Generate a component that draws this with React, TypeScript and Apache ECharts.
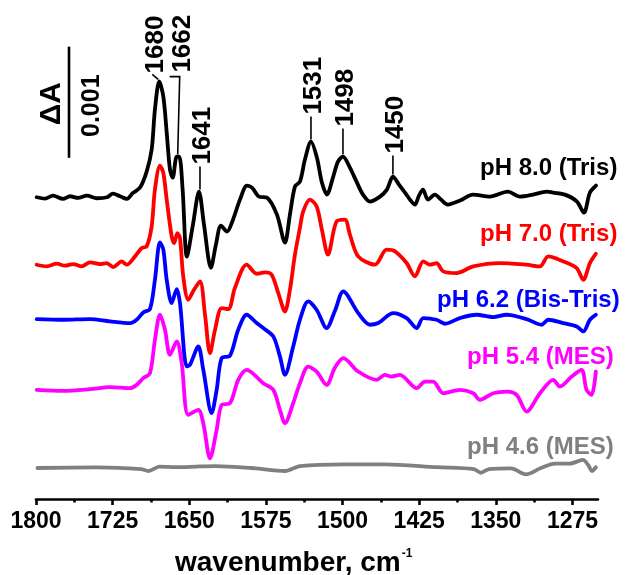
import { useEffect, useRef } from "react";
import * as echarts from "echarts";

// x axis (wavenumber, cm-1)
const tickValues = [1800, 1725, 1650, 1575, 1500, 1425, 1350, 1275];
const minorTickValues = [1762.5, 1687.5, 1612.5, 1537.5, 1462.5, 1387.5, 1312.5];

// Difference spectra: [wavenumber, ΔA in mOD relative to trace baseline]
const pH80: [number, number][] = [
  [1799.3, -0.006], [1791.2, -0.018], [1783.4, 0.009], [1773.6, -0.021], [1766.7, 0.003], [1758.9, -0.012],
  [1750.1, 0.009], [1740.3, -0.015], [1730.5, -0.006], [1724.7, 0.027], [1717.8, 0.003], [1711.0, -0.021],
  [1705.1, 0.033], [1698.2, 0.081], [1691.7, 0.225], [1686.8, 0.423], [1683.6, 0.784], [1679.4, 1.036],
  [1675.4, 0.901], [1672.1, 0.577], [1668.9, 0.243], [1666.2, 0.171], [1662.3, 0.36], [1659.8, 0.36],
  [1656.5, 0.063], [1652.3, -0.541], [1646.4, -0.252], [1640.5, 0.045], [1635.6, -0.252], [1628.8, -0.64],
  [1623.9, -0.432], [1619.0, -0.261], [1613.1, -0.315], [1607.2, -0.207], [1600.4, -0.027], [1593.5, 0.099],
  [1588.6, 0.081], [1581.8, 0], [1574.0, -0.009], [1564.2, -0.162], [1556.4, -0.414], [1551.5, -0.162],
  [1546.6, 0.09], [1541.7, 0.135], [1536.8, 0.333], [1530.9, 0.495], [1525.1, 0.351], [1520.2, 0.126],
  [1515.3, 0.018], [1509.4, 0.171], [1504.5, 0.315], [1499.6, 0.36], [1492.8, 0.261], [1485.9, 0.126],
  [1480.0, 0.018], [1473.2, -0.045], [1463.4, 0], [1456.6, 0.063], [1450.7, 0.18], [1444.8, 0.108],
  [1438.9, 0.036], [1434.0, -0.027], [1429.2, -0.072], [1425.2, 0.009], [1421.3, 0.063], [1416.4, -0.027],
  [1409.6, 0.018], [1403.7, -0.027], [1396.9, -0.072], [1385.1, -0.036], [1372.4, 0.018], [1355.8, 0],
  [1338.2, 0.045], [1326.4, 0], [1313.7, 0.018], [1300.0, 0.045], [1294.1, 0.036], [1282.4, 0.018],
  [1270.6, -0.045], [1263.8, -0.144], [1257.9, 0.036], [1252.0, 0.099],
];
const pH70: [number, number][] = [
  [1799.3, 0], [1789.5, -0.015], [1779.7, 0.009], [1771.6, -0.009], [1763.5, 0.006], [1755.3, -0.015],
  [1747.2, 0.021], [1737.4, 0.006], [1730.8, 0.015], [1724.4, -0.021], [1716.1, 0.03], [1711.3, 0],
  [1703.1, 0.075], [1696.6, 0.15], [1691.7, 0.165], [1686.8, 0.345], [1683.6, 0.676], [1678.7, 0.892],
  [1675.4, 0.826], [1672.1, 0.586], [1667.2, 0.255], [1664.7, 0.195], [1661.7, 0.285], [1659.1, 0.24],
  [1655.9, -0.105], [1651.0, -0.315], [1645.4, -0.225], [1639.5, -0.15], [1634.6, -0.45], [1629.7, -0.796],
  [1624.8, -0.586], [1618.3, -0.39], [1611.8, -0.399], [1605.3, -0.207], [1593.8, 0], [1584.0, -0.081],
  [1575.9, -0.069], [1569.4, -0.09], [1562.9, -0.255], [1556.4, -0.421], [1551.5, -0.225], [1546.6, 0.09],
  [1541.7, 0.333], [1538.5, 0.48], [1531.9, 0.586], [1525.4, 0.526], [1520.2, 0.315], [1514.3, 0.09],
  [1505.8, 0.39], [1497.7, 0.405], [1492.8, 0.27], [1484.7, 0.075], [1468.3, 0], [1456.9, 0.135],
  [1448.7, 0.12], [1437.3, 0.015], [1429.2, -0.105], [1421.0, 0.03], [1414.5, 0], [1408.0, 0.015],
  [1401.5, -0.06], [1388.4, -0.075], [1372.1, -0.015], [1346.0, 0.015], [1319.9, 0], [1306.8, -0.015],
  [1298.7, 0.075], [1284.0, 0.03], [1270.9, -0.03], [1264.4, -0.135], [1257.9, 0.015], [1252.1, 0.099],
];
const pH62: [number, number][] = [
  [1799.3, -0.003], [1773.3, -0.009], [1747.2, -0.003], [1727.6, -0.024], [1708.0, -0.039], [1701.5, -0.009],
  [1695.0, 0.057], [1688.5, 0.087], [1683.6, 0.351], [1678.7, 0.688], [1675.4, 0.622], [1672.1, 0.351],
  [1667.2, 0.141], [1662.3, 0.267], [1659.1, 0.141], [1652.5, -0.429], [1649.3, -0.414], [1641.2, -0.25],
  [1636.3, -0.459], [1628.1, -0.849], [1623.2, -0.64], [1618.3, -0.354], [1610.2, -0.333], [1602.1, -0.099],
  [1593.8, 0.036], [1584.0, -0.039], [1577.6, -0.084], [1567.8, -0.159], [1561.3, -0.339], [1556.4, -0.505],
  [1548.3, -0.25], [1541.7, -0.009], [1533.6, 0.156], [1525.4, 0.081], [1515.6, -0.084], [1507.5, 0.07],
  [1499.3, 0.246], [1484.7, 0.051], [1473.2, -0.054], [1465.1, -0.039], [1450.4, 0.051], [1437.3, 0.006],
  [1427.5, -0.084], [1421.0, 0.006], [1408.0, -0.009], [1399.8, -0.045], [1385.1, 0.006], [1368.8, 0.036],
  [1352.5, 0.015], [1339.4, 0.036], [1319.9, -0.003], [1305.2, -0.054], [1298.7, -0.009], [1284.0, -0.039],
  [1270.9, -0.069], [1264.4, -0.114], [1257.9, -0.009], [1252.1, 0.036],
];
const pH54: [number, number][] = [
  [1799.3, 0], [1773.3, -0.009], [1747.2, 0.006], [1727.6, 0.024], [1708.0, 0.015], [1701.5, 0.045],
  [1695.0, 0.105], [1688.5, 0.15], [1683.6, 0.45], [1678.7, 0.676], [1673.8, 0.541], [1668.9, 0.315],
  [1662.3, 0.435], [1657.4, 0.24], [1651.0, -0.225], [1641.2, -0.18], [1636.3, -0.3], [1629.7, -0.616],
  [1623.2, -0.36], [1618.3, -0.135], [1610.2, -0.12], [1602.1, 0.09], [1593.8, 0.18], [1577.6, 0.06],
  [1567.8, 0], [1561.3, -0.18], [1556.4, -0.3], [1548.3, -0.12], [1541.7, 0.06], [1533.6, 0.21],
  [1525.4, 0.165], [1515.6, 0.045], [1507.5, 0.2], [1499.3, 0.285], [1484.7, 0.165], [1466.7, 0.09],
  [1458.6, 0.135], [1452.1, 0.12], [1443.8, 0.135], [1427.5, 0.015], [1419.4, 0.075], [1411.3, 0.075],
  [1401.5, -0.03], [1385.1, 0], [1372.1, -0.03], [1365.6, -0.09], [1352.5, -0.03], [1339.4, -0.015],
  [1329.6, -0.045], [1319.9, -0.195], [1306.8, -0.03], [1293.8, 0.09], [1287.3, 0.03], [1275.8, 0.12],
  [1266.1, 0.18], [1261.2, 0], [1256.3, -0.045], [1252.1, 0.165],
];
const pH46: [number, number][] = [
  [1798.6, 0], [1740.0, 0.005], [1697.3, -0.01], [1690.0, -0.027], [1679.2, 0.013], [1661.1, 0.007],
  [1643.0, 0.013], [1624.9, 0.017], [1588.7, 0], [1556.4, -0.027], [1541.7, 0.017], [1498.1, 0.033],
  [1458.5, 0.033], [1407.6, 0.007], [1371.4, -0.01], [1364.6, -0.043], [1356.8, -0.01], [1335.2, -0.003],
  [1320.5, -0.057], [1306.4, -0.003], [1292.2, 0.04], [1277.5, 0.04], [1264.8, 0.073], [1259.3, 0.023],
  [1256.0, -0.027], [1252.1, 0.007],
];

const traceNames = ["pH 8.0 (Tris)", "pH 7.0 (Tris)", "pH 6.2 (Bis-Tris)", "pH 5.4 (MES)", "pH 4.6 (MES)"];
const traceData = [pH80, pH70, pH62, pH54, pH46];
// vertical offsets of the stacked traces, mOD
const traceOffsets = [2.721, 2.108, 1.622, 0.982, 0.279];
// annotated bands of the pH 8.0 spectrum, cm-1
const peakLabels = [1680, 1662, 1641, 1531, 1498, 1450];
// scale bar: ΔA 0.001 (= 1 mOD)
const scaleBarMOD = 1;
const scaleBarText = "0.001";
const axisTitle = "wavenumber, cm";
const axisTitleSup = "-1";

const traceColors = ["#000000", "#ff0000", "#0000ff", "#ff00ff", "#808080"];
const nameLayout = [
  { x: 480, y: 166 },
  { x: 480, y: 232 },
  { x: 437, y: 298 },
  { x: 467, y: 355 },
  { x: 467, y: 445 },
];
const peakLayout: Record<number, { dx: number; gap: number; ldx: number }> = {
  1680: { dx: -5, gap: 8, ldx: 0 },
  1662: { dx: 4, gap: 84, ldx: 0 },
  1641: { dx: 2, gap: 27, ldx: 1 },
  1531: { dx: 1, gap: 27, ldx: 0 },
  1498: { dx: 1, gap: 30, ldx: 0 },
  1450: { dx: 1, gap: 23, ldx: 0 },
};

const FONT = '"Liberation Sans", Arial, Helvetica, sans-serif';

function measure(text: string, font: string): number {
  const c = document.createElement("canvas").getContext("2d");
  if (!c) return text.length * 14;
  c.font = font;
  return c.measureText(text).width;
}

export default function App() {
  const ref = useRef<HTMLDivElement>(null);
  useEffect(() => {
    if (!ref.current) return;
    const chart = echarts.init(ref.current, null, { renderer: "svg" });
    const series = traceData.map((d, i) => ({
      type: "line",
      name: traceNames[i],
      data: d.map(([w, a]) => [w, a + traceOffsets[i]]),
      showSymbol: false,
      symbol: "none",
      smooth: 0.3,
      silent: true,
      lineStyle: { color: traceColors[i], width: 3.8, cap: "round", join: "round" },
      z: 10 - i,
    }));
    chart.setOption({
      animation: false,
      grid: { left: 36, right: 32, top: 10, bottom: 76 },
      xAxis: [
        {
          type: "value",
          inverse: true,
          min: 1250,
          max: 1800,
          position: "bottom",
          axisLine: { show: true, lineStyle: { color: "#000", width: 2.6 } },
          axisTick: { show: true, customValues: tickValues, length: 6, lineStyle: { color: "#000", width: 2.6 } },
          axisLabel: {
            customValues: tickValues,
            formatter: (v: number) => String(v),
            fontSize: 23,
            fontWeight: "bold",
            fontFamily: FONT,
            color: "#000",
            margin: 9,
          },
          splitLine: { show: false },
        },
        {
          type: "value",
          inverse: true,
          min: 1250,
          max: 1800,
          position: "bottom",
          axisLine: { show: false },
          axisTick: { show: true, customValues: minorTickValues, length: 3.5, lineStyle: { color: "#000", width: 2.6 } },
          axisLabel: { show: false },
          splitLine: { show: false },
        },
      ],
      yAxis: { type: "value", min: 0, max: 4.4, show: false },
      series,
    });

    const px = (w: number, v: number) => chart.convertToPixel({ gridIndex: 0 }, [w, v]) as number[];
    const graphics: any[] = [];
    const textStyle = (size: number, fill = "#000") => ({
      fontSize: size,
      fontWeight: "bold",
      fontFamily: FONT,
      fill,
    });

    // peak labels
    peakLabels.forEach((pk) => {
      let best = pH80[0];
      pH80.forEach((p) => {
        if (Math.abs(p[0] - pk) < Math.abs(best[0] - pk)) best = p;
      });
      const [x, y] = px(best[0], best[1] + traceOffsets[0]);
      const lay = peakLayout[pk];
      const tb = y - lay.gap;
      graphics.push({
        type: "text",
        x: x + lay.dx,
        y: tb,
        rotation: Math.PI / 2,
        style: { ...textStyle(26), text: String(pk), align: "left", verticalAlign: "middle" },
      });
      const ls = { stroke: "#000", lineWidth: 1.6 };
      if (pk === 1680) {
        graphics.push({ type: "line", shape: { x1: x - 7, y1: tb + 1, x2: x - 1, y2: y - 2 }, style: ls });
      } else if (pk === 1662) {
        graphics.push({
          type: "polyline",
          shape: { points: [[x - 7, tb + 4], [x + 3, tb + 4], [x + 1, y - 2]] },
          style: { ...ls, fill: null },
        });
      } else {
        graphics.push({
          type: "line",
          shape: { x1: x + lay.ldx, y1: tb + 2, x2: x + lay.ldx, y2: y - 2 },
          style: ls,
        });
      }
    });

    // scale bar
    const [bx, by0] = px(1767.7, 3.07);
    const [, by1] = px(1767.7, 3.07 + scaleBarMOD);
    graphics.push({ type: "line", shape: { x1: bx, y1: by0, x2: bx, y2: by1 }, style: { stroke: "#000", lineWidth: 2.6 } });
    const bm = (by0 + by1) / 2;
    graphics.push({
      type: "text",
      x: bx - 20,
      y: bm + 1.5,
      rotation: Math.PI / 2,
      style: { ...textStyle(30), text: "ΔA", align: "center", verticalAlign: "middle" },
    });
    graphics.push({
      type: "text",
      x: bx + 21,
      y: bm + 3.5,
      rotation: Math.PI / 2,
      style: { ...textStyle(25), text: scaleBarText, align: "center", verticalAlign: "middle" },
    });

    // trace names
    traceNames.forEach((n, i) => {
      graphics.push({
        type: "text",
        x: nameLayout[i].x,
        y: nameLayout[i].y,
        style: { ...textStyle(24, traceColors[i]), text: n, align: "left", verticalAlign: "middle" },
      });
    });

    // axis title with superscript
    const titleX = 175;
    const titleW = measure(axisTitle, `bold 28px ${FONT}`);
    graphics.push({
      type: "text",
      x: titleX,
      y: 561,
      style: { ...textStyle(28), text: axisTitle, align: "left", verticalAlign: "middle" },
    });
    graphics.push({
      type: "text",
      x: titleX + titleW + 1,
      y: 553,
      style: { ...textStyle(12), text: axisTitleSup, align: "left", verticalAlign: "middle" },
    });

    chart.setOption({ graphic: graphics });
    return () => chart.dispose();
  }, []);
  return <div ref={ref} style={{ position: "fixed", left: 0, top: 0, width: 630, height: 575 }} />;
}
